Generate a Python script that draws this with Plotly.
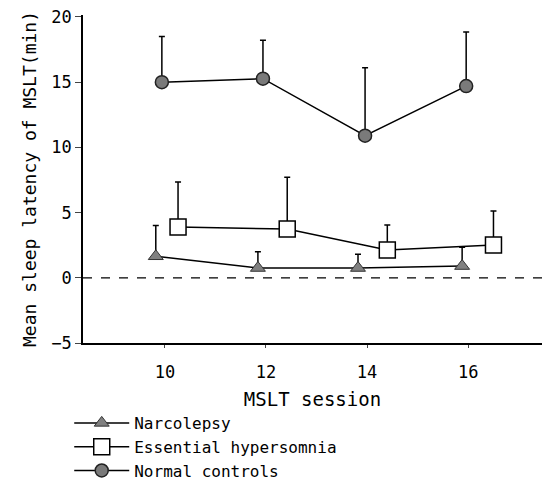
import plotly.graph_objects as go

# Data
narco_x = [9.82, 11.84, 13.82, 15.88]
narco_y = [1.65, 0.75, 0.75, 0.9]
narco_err = [2.35, 1.25, 1.05, 1.45]

eh_x = [10.26, 12.42, 14.4, 16.5]
eh_y = [3.9, 3.74, 2.14, 2.52]
eh_err = [3.45, 3.96, 1.9, 2.6]

nc_x = [9.94, 11.94, 13.96, 15.96]
nc_y = [15.0, 15.27, 10.9, 14.7]
nc_err = [3.5, 2.95, 5.2, 4.15]

x_ticks = [10, 12, 14, 16]
y_ticks = [-5, 0, 5, 10, 15, 20]

FONT = "DejaVu Sans Mono"

def err(vals):
    return dict(type="data", array=vals, arrayminus=[0]*len(vals), symmetric=False,
                color="black", thickness=1.5, width=3)

fig = go.Figure()
fig.add_trace(go.Scatter(
    x=narco_x, y=narco_y, mode="lines+markers", name="Narcolepsy",
    line=dict(color="black", width=1.5),
    marker=dict(symbol="triangle-up", size=13, color="#808080", line=dict(color="#333", width=1)),
    error_y=err(narco_err)))
fig.add_trace(go.Scatter(
    x=eh_x, y=eh_y, mode="lines+markers", name="Essential hypersomnia",
    line=dict(color="black", width=1.5),
    marker=dict(symbol="square", size=16, color="white", line=dict(color="black", width=1.5)),
    error_y=err(eh_err)))
fig.add_trace(go.Scatter(
    x=nc_x, y=nc_y, mode="lines+markers", name="Normal controls",
    line=dict(color="black", width=1.5),
    marker=dict(symbol="circle", size=13, color="#7a7a7a", line=dict(color="#222", width=1.5)),
    error_y=err(nc_err)))

fig.add_hline(y=0, line=dict(color="black", width=1.3, dash="dash"))

fig.update_layout(
    width=542, height=488,
    margin=dict(l=83, r=0, t=15, b=145),
    paper_bgcolor="white", plot_bgcolor="white",
    font=dict(family=FONT, size=16, color="black"),
    showlegend=True,
    legend=dict(x=-0.03, y=-0.442, xanchor="left", yanchor="bottom",
                font=dict(family=FONT, size=16), itemwidth=55,
                tracegroupgap=0, bgcolor="rgba(0,0,0,0)"),
    xaxis=dict(range=[8.38, 17.46], tickvals=x_ticks, ticks="outside", ticklen=3,
               ticklabelstandoff=10,
               showline=True, linecolor="black", linewidth=1.5, showgrid=False,
               zeroline=False,
               title=dict(text="MSLT session", standoff=12, font=dict(family=FONT, size=19)),
               tickfont=dict(size=17)),
    yaxis=dict(range=[-5, 20.15], tickvals=y_ticks, ticks="outside", ticklen=6,
               showline=True, linecolor="black", linewidth=1.5, showgrid=False,
               zeroline=False,
               title=dict(text="Mean sleep latency of MSLT(min)", standoff=10,
                          font=dict(family=FONT, size=18)),
               tickfont=dict(size=17)),
)

fig.write_html("out.html")
